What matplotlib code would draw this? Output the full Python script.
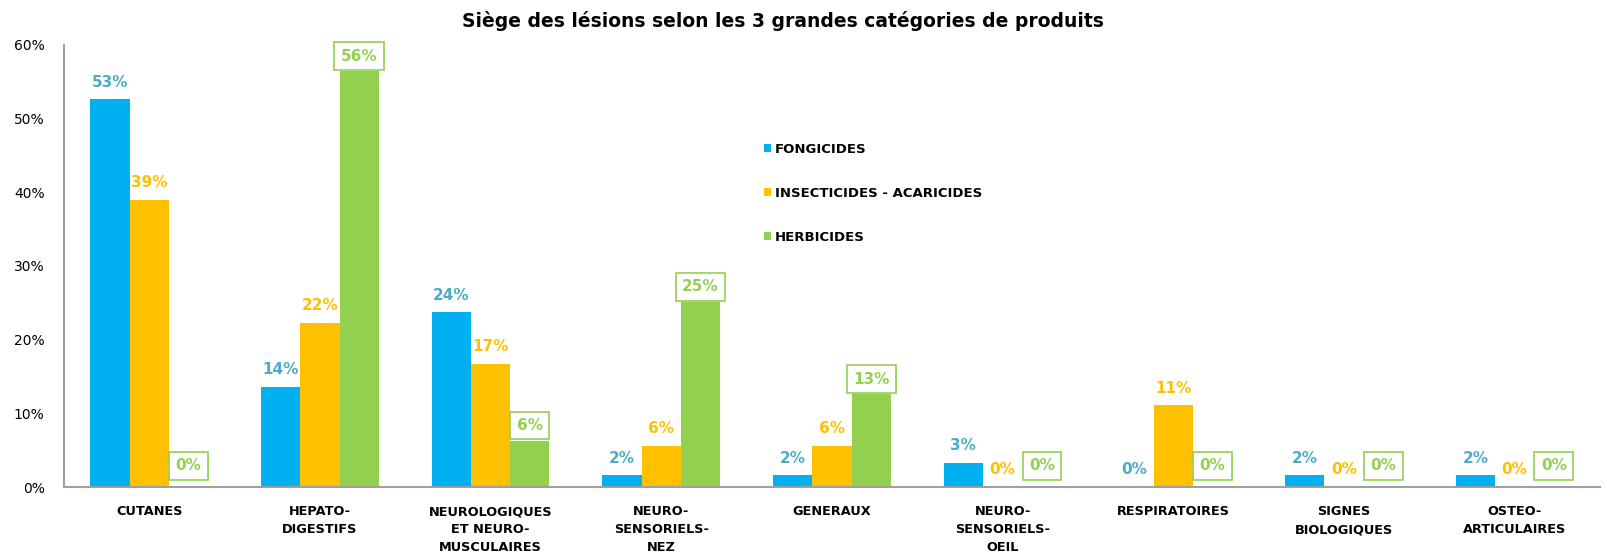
import numpy as np
import matplotlib
matplotlib.use("Agg")
import matplotlib.pyplot as plt

# data (percent)
categories = ["CUTANES", "HEPATO-\nDIGESTIFS", "NEUROLOGIQUES\nET NEURO-\nMUSCULAIRES",
              "NEURO-\nSENSORIELS-\nNEZ", "GENERAUX", "NEURO-\nSENSORIELS-\nOEIL",
              "RESPIRATOIRES", "SIGNES\nBIOLOGIQUES", "OSTEO-\nARTICULAIRES"]
fongicides = [52.6, 13.6, 23.7, 1.6, 1.6, 3.3, 0, 1.6, 1.6]
insecticides = [39.0, 22.3, 16.7, 5.6, 5.6, 0, 11.1, 0, 0]
herbicides = [0, 56.4, 6.3, 25.1, 12.6, 0, 0, 0, 0]
series_names = ["FONGICIDES", "INSECTICIDES - ACARICIDES", "HERBICIDES"]

bar_colors = ["#00B0F0", "#FFC000", "#92D050"]
label_colors = ["#4BACC6", "#FFC000", "#92D050"]

fig = plt.figure(figsize=(16.07, 5.55), dpi=100)
ax = fig.add_axes([0.0398, 0.1225, 0.9558, 0.7965])

x = np.arange(len(categories))
w = 0.23
all_series = [fongicides, insecticides, herbicides]
for i, vals in enumerate(all_series):
    pos = x + (i - 1) * w
    ax.bar(pos, vals, width=w, color=bar_colors[i], label=series_names[i])
    for px, v in zip(pos, vals):
        txt = f"{round(v):d}%"
        if i == 2:
            # green labels sit in a framed box
            ax.annotate(txt, (px, v), xytext=(0, 10 if v == 0 else 5.5),
                        textcoords="offset points",
                        ha="center", va="bottom", fontsize=11, fontweight="bold",
                        color=label_colors[i],
                        bbox=dict(boxstyle="square,pad=0.42", fc="white",
                                  ec=label_colors[i], lw=1.2))
        else:
            ax.annotate(txt, (px, v), xytext=(0, 7), textcoords="offset points",
                        ha="center", va="bottom", fontsize=11, fontweight="bold",
                        color=label_colors[i])

ax.set_xlim(-0.5, len(categories) - 0.5)
ax.set_ylim(0, 60)
ax.set_yticks(np.arange(0, 61, 10))
ax.set_yticklabels([f"{t}%" for t in range(0, 61, 10)], fontsize=10)
ax.set_xticks(x)
ax.set_xticklabels(categories, fontsize=9.3, fontweight="bold", linespacing=1.5)
ax.tick_params(axis="both", length=0)
ax.tick_params(axis="x", pad=13)
ax.tick_params(axis="y", pad=14)

for s in ["top", "right"]:
    ax.spines[s].set_visible(False)
for s in ["left", "bottom"]:
    ax.spines[s].set_color("#A0A0A0")
    ax.spines[s].set_linewidth(1.5)

ax.legend(loc="upper left", bbox_to_anchor=(0.448, 0.805), frameon=False,
          prop={"size": 9.5, "weight": "bold"}, handlelength=0.55, handleheight=0.55,
          handletextpad=0.25, labelspacing=2.35)

fig.text(0.487, 0.962, "Siège des lésions selon les 3 grandes catégories de produits",
         ha="center", va="center", fontsize=13.5, fontweight="bold")

fig.savefig("out.png", dpi=100)
